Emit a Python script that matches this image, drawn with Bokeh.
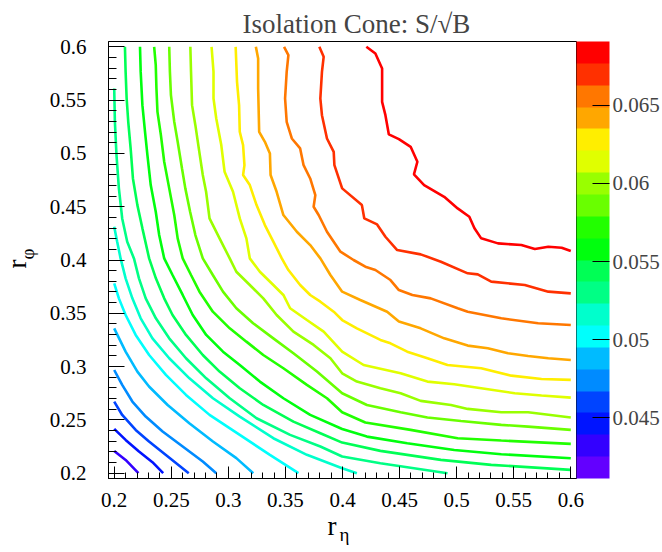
import colorsys
from bokeh.plotting import figure
from bokeh.models import (ColumnDataSource, LinearColorMapper, ColorBar, FixedTicker,
                          Range1d, CustomJSTickFormatter, Title)
from bokeh.embed import file_html
from bokeh.resources import INLINE

# ---------------- data ----------------
title_text = "Isolation Cone: S/\u221AB"
x_title_main, x_title_sub = "r", "\u03B7"
y_title_main, y_title_sub = "r", "\u03C6"

axis_lo, axis_hi = 0.195, 0.605
axis_ticks = [0.2, 0.25, 0.3, 0.35, 0.4, 0.45, 0.5, 0.55, 0.6]
z_min, z_max = 0.04113, 0.06907
n_bands = 20
cbar_ticks = [0.045, 0.05, 0.055, 0.06, 0.065]

contour_levels = [0.04252, 0.04392, 0.04532, 0.04672, 0.04811, 0.04951, 0.05091,
                  0.05230, 0.05370, 0.05510, 0.05650, 0.05790, 0.05929, 0.06069,
                  0.06209, 0.06348, 0.06488, 0.06628, 0.06768]

x_c01 = [0.2000, 0.2100, 0.2212]
y_c01 = [0.2209, 0.2124, 0.2000]
x_c02 = [0.2000, 0.2100, 0.2217, 0.2335, 0.2429]
y_c02 = [0.2415, 0.2312, 0.2203, 0.2103, 0.2000]
x_c03 = [0.2000, 0.2070, 0.2188, 0.2305, 0.2453, 0.2653]
y_c03 = [0.2672, 0.2546, 0.2406, 0.2297, 0.2171, 0.2000]
x_c04 = [0.2000, 0.2070, 0.2159, 0.2276, 0.2424, 0.2600, 0.2776, 0.2894]
y_c04 = [0.2968, 0.2828, 0.2672, 0.2531, 0.2391, 0.2250, 0.2109, 0.2000]
x_c05 = [0.2000, 0.2100, 0.2203, 0.2305, 0.2468, 0.2658, 0.2865, 0.3070, 0.3218]
y_c05 = [0.3359, 0.3141, 0.2953, 0.2813, 0.2640, 0.2468, 0.2297, 0.2141, 0.2000]
x_c06 = [0.2000, 0.2041, 0.2100, 0.2188, 0.2306, 0.2453, 0.2629, 0.2835, 0.3100, 0.3364, 0.3614]
y_c06 = [0.3781, 0.3640, 0.3484, 0.3297, 0.3109, 0.2922, 0.2734, 0.2547, 0.2359, 0.2172, 0.2000]
x_c07 = [0.2000, 0.2026, 0.2056, 0.2100, 0.2159, 0.2232, 0.2335, 0.2482, 0.2659, 0.2865,
         0.3100, 0.3394, 0.3688, 0.3997, 0.4126]
y_c07 = [0.4312, 0.4172, 0.4015, 0.3828, 0.3640, 0.3453, 0.3265, 0.3078, 0.2890, 0.2703,
         0.2531, 0.2328, 0.2172, 0.2047, 0.2000]
x_c08 = [0.2000, 0.2006, 0.2020, 0.2041, 0.2070, 0.2114, 0.2173, 0.2217, 0.2276, 0.2365,
         0.2482, 0.2629, 0.2806, 0.3012, 0.3247, 0.3541, 0.3806, 0.3997, 0.4332, 0.4920]
y_c08 = [0.5609, 0.5297, 0.4984, 0.4672, 0.4390, 0.4172, 0.4015, 0.3828, 0.3640, 0.3453,
         0.3265, 0.3078, 0.2890, 0.2703, 0.2515, 0.2359, 0.2250, 0.2156, 0.2093, 0.2000]
x_c09 = [0.2094, 0.2100, 0.2109, 0.2123, 0.2144, 0.2164, 0.2203, 0.2247, 0.2306, 0.2365,
         0.2438, 0.2511, 0.2629, 0.2776, 0.2923, 0.3100, 0.3306, 0.3570, 0.3806, 0.3997,
         0.4332, 0.4862, 0.5303, 0.6000]
y_c09 = [0.6000, 0.5765, 0.5515, 0.5297, 0.5047, 0.4765, 0.4515, 0.4297, 0.4015, 0.3828,
         0.3640, 0.3484, 0.3297, 0.3109, 0.2953, 0.2797, 0.2640, 0.2484, 0.2375, 0.2287,
         0.2209, 0.2125, 0.2078, 0.2031]
x_c10 = [0.2226, 0.2232, 0.2247, 0.2270, 0.2291, 0.2320, 0.2364, 0.2394, 0.2438, 0.2511,
         0.2600, 0.2688, 0.2806, 0.2953, 0.3100, 0.3276, 0.3482, 0.3717, 0.3997, 0.4214,
         0.4567, 0.4979, 0.5391, 0.6000]
y_c10 = [0.6000, 0.5765, 0.5453, 0.5203, 0.4984, 0.4703, 0.4453, 0.4234, 0.4015, 0.3859,
         0.3672, 0.3484, 0.3297, 0.3140, 0.3015, 0.2859, 0.2703, 0.2547, 0.2415, 0.2343,
         0.2281, 0.2218, 0.2178, 0.2140]
x_c11 = [0.2350, 0.2364, 0.2370, 0.2379, 0.2409, 0.2438, 0.2482, 0.2526, 0.2556, 0.2600,
         0.2673, 0.2747, 0.2864, 0.3012, 0.3158, 0.3306, 0.3482, 0.3688, 0.3864, 0.3997,
         0.4200, 0.4597, 0.5009, 0.5391, 0.6000]
y_c11 = [0.6000, 0.5828, 0.5609, 0.5390, 0.5172, 0.4922, 0.4672, 0.4422, 0.4203, 0.4015,
         0.3859, 0.3703, 0.3515, 0.3359, 0.3234, 0.3109, 0.2984, 0.2828, 0.2703, 0.2572,
         0.2475, 0.2406, 0.2328, 0.2306, 0.2275]
x_c12 = [0.2482, 0.2488, 0.2497, 0.2526, 0.2556, 0.2594, 0.2623, 0.2665, 0.2711, 0.2776,
         0.2864, 0.2953, 0.3070, 0.3217, 0.3394, 0.3570, 0.3776, 0.3997, 0.4214, 0.4509,
         0.4744, 0.5038, 0.5391, 0.5626, 0.6000]
y_c12 = [0.6000, 0.5765, 0.5547, 0.5297, 0.5109, 0.4859, 0.4672, 0.4453, 0.4234, 0.4015,
         0.3859, 0.3703, 0.3547, 0.3406, 0.3265, 0.3125, 0.2953, 0.2750, 0.2640, 0.2572,
         0.2522, 0.2490, 0.2453, 0.2437, 0.2406]
x_c13 = [0.2667, 0.2673, 0.2682, 0.2711, 0.2741, 0.2776, 0.2805, 0.2835, 0.2923, 0.3012,
         0.3070, 0.3188, 0.3306, 0.3423, 0.3570, 0.3747, 0.3894, 0.3997, 0.4126, 0.4332,
         0.4509, 0.4685, 0.4950, 0.5097, 0.5391, 0.5626, 0.6000]
y_c13 = [0.6000, 0.5765, 0.5453, 0.5265, 0.5047, 0.4797, 0.4640, 0.4390, 0.4203, 0.4015,
         0.3890, 0.3765, 0.3640, 0.3484, 0.3328, 0.3203, 0.3078, 0.2937, 0.2859, 0.2797,
         0.2750, 0.2678, 0.2640, 0.2603, 0.2572, 0.2572, 0.2522]
x_c14 = [0.2853, 0.2870, 0.2870, 0.2894, 0.2938, 0.2967, 0.3041, 0.3100, 0.3158, 0.3188,
         0.3276, 0.3394, 0.3482, 0.3541, 0.3688, 0.3835, 0.3997, 0.4185, 0.4509, 0.4744,
         0.4979, 0.5215, 0.5509, 0.5744, 0.6000]
y_c14 = [0.6000, 0.5765, 0.5515, 0.5328, 0.5078, 0.4828, 0.4640, 0.4390, 0.4203, 0.4015,
         0.3890, 0.3765, 0.3672, 0.3547, 0.3437, 0.3328, 0.3140, 0.3015, 0.2937, 0.2859,
         0.2834, 0.2797, 0.2750, 0.2728, 0.2709]
x_c15 = [0.3064, 0.3076, 0.3094, 0.3100, 0.3129, 0.3141, 0.3129, 0.3188, 0.3247, 0.3320,
         0.3394, 0.3468, 0.3526, 0.3629, 0.3717, 0.3806, 0.3923, 0.3997, 0.4126, 0.4332,
         0.4420, 0.4567, 0.4744, 0.4920, 0.5215, 0.5479, 0.5744, 0.6000]
y_c15 = [0.6000, 0.5672, 0.5453, 0.5203, 0.5078, 0.4890, 0.4797, 0.4703, 0.4515, 0.4328,
         0.4172, 0.4015, 0.3906, 0.3765, 0.3672, 0.3609, 0.3515, 0.3437, 0.3359, 0.3250,
         0.3218, 0.3140, 0.3078, 0.3015, 0.2984, 0.2915, 0.2884, 0.2875]
x_c16 = [0.3241, 0.3261, 0.3261, 0.3270, 0.3320, 0.3364, 0.3370, 0.3423, 0.3482, 0.3600,
         0.3717, 0.3806, 0.3894, 0.3997, 0.4156, 0.4391, 0.4494, 0.4685, 0.4891, 0.5097,
         0.5273, 0.5450, 0.5626, 0.5803, 0.6000]
y_c16 = [0.6000, 0.5890, 0.5609, 0.5203, 0.5109, 0.5000, 0.4797, 0.4640, 0.4422, 0.4265,
         0.4140, 0.4015, 0.3859, 0.3703, 0.3625, 0.3515, 0.3422, 0.3359, 0.3265, 0.3197,
         0.3172, 0.3125, 0.3100, 0.3078, 0.3062]
x_c17 = [0.3488, 0.3526, 0.3511, 0.3497, 0.3511, 0.3556, 0.3629, 0.3659, 0.3717, 0.3762,
         0.3747, 0.3791, 0.3864, 0.3982, 0.4097, 0.4200, 0.4288, 0.4420, 0.4494, 0.4612,
         0.4773, 0.5009, 0.5097, 0.5391, 0.5714, 0.6000]
y_c17 = [0.6000, 0.5922, 0.5765, 0.5515, 0.5297, 0.5140, 0.5047, 0.4890, 0.4765, 0.4609,
         0.4500, 0.4422, 0.4265, 0.4078, 0.4000, 0.3937, 0.3906, 0.3812, 0.3718, 0.3672,
         0.3640, 0.3547, 0.3515, 0.3453, 0.3406, 0.3390]
x_c18 = [0.3797, 0.3835, 0.3820, 0.3806, 0.3820, 0.3864, 0.3923, 0.3929, 0.3997, 0.4170,
         0.4191, 0.4303, 0.4376, 0.4479, 0.4685, 0.4862, 0.5097, 0.5185, 0.5303, 0.5597,
         0.5803, 0.6000]
y_c18 = [0.6000, 0.5906, 0.5765, 0.5515, 0.5359, 0.5140, 0.5015, 0.4890, 0.4672, 0.4515,
         0.4390, 0.4334, 0.4218, 0.4093, 0.4053, 0.3984, 0.3875, 0.3865, 0.3797, 0.3765,
         0.3703, 0.3687]
x_c19 = [0.4209, 0.4288, 0.4347, 0.4347, 0.4376, 0.4406, 0.4494, 0.4597, 0.4656, 0.4626,
         0.4715, 0.4891, 0.5009, 0.5111, 0.5156, 0.5215, 0.5362, 0.5567, 0.5685, 0.5803,
         0.5920, 0.6000]
y_c19 = [0.6000, 0.5937, 0.5797, 0.5484, 0.5359, 0.5178, 0.5134, 0.5062, 0.4922, 0.4803,
         0.4703, 0.4593, 0.4484, 0.4406, 0.4297, 0.4203, 0.4156, 0.4140, 0.4103, 0.4125,
         0.4115, 0.4084]

contour_xs = [x_c01, x_c02, x_c03, x_c04, x_c05, x_c06, x_c07, x_c08, x_c09, x_c10,
              x_c11, x_c12, x_c13, x_c14, x_c15, x_c16, x_c17, x_c18, x_c19]
contour_ys = [y_c01, y_c02, y_c03, y_c04, y_c05, y_c06, y_c07, y_c08, y_c09, y_c10,
              y_c11, y_c12, y_c13, y_c14, y_c15, y_c16, y_c17, y_c18, y_c19]

# ---------------- style ----------------
FONT = "Liberation Serif"


def root_pretty_palette(nb):
    # ROOT "pretty palette" (violet -> red), sampled as THistPainter does for nb contours
    cols = []
    for i in range(nb):
        idx = int((i + 0.99) * 50 / nb)
        hue = 280.0 - (idx + 1) * (280.0 / 50)
        r, g, b = colorsys.hls_to_rgb(hue / 360.0, 0.5, 1.0)
        cols.append("#%02x%02x%02x" % (round(r * 255), round(g * 255), round(b * 255)))
    return cols


palette = root_pretty_palette(n_bands)
band = (z_max - z_min) / n_bands
line_colors = [palette[min(n_bands - 1, int(round((lv - z_min) / band)))] for lv in contour_levels]

p = figure(width=662, height=552, x_range=Range1d(axis_lo, axis_hi),
           y_range=Range1d(axis_lo, axis_hi), output_backend="svg",
           toolbar_location=None, min_border_left=108, min_border_top=41,
           min_border_bottom=74, min_border_right=0)
p.background_fill_color = "white"
p.border_fill_color = "white"
p.outline_line_color = "black"
p.outline_line_width = 1
p.xgrid.visible = False
p.ygrid.visible = False

src = ColumnDataSource(dict(xs=contour_xs, ys=contour_ys, color=line_colors,
                            level=contour_levels))
p.multi_line(xs="xs", ys="ys", line_color="color", line_width=2.6, source=src)

fmt = CustomJSTickFormatter(code="return String(Math.round(tick*1000)/1000);")
minor = [round(0.19 + 0.01 * k, 3) for k in range(0, 43)]
for axes, tin, mtin in ((p.xaxis, 12, 6), (p.yaxis, 16, 8)):
    axes.ticker = FixedTicker(ticks=axis_ticks, minor_ticks=minor)
    axes.formatter = fmt
    axes.major_tick_in = tin
    axes.major_tick_out = 0
    axes.minor_tick_in = mtin
    axes.minor_tick_out = 0
    axes.major_tick_line_color = "black"
    axes.minor_tick_line_color = "black"
    axes.axis_line_color = "black"
    axes.major_label_text_font = FONT
    axes.major_label_text_font_size = "21px"
    axes.major_label_text_color = "black"
p.xaxis.major_label_standoff = 14
p.yaxis.major_label_standoff = 22

mapper = LinearColorMapper(palette=palette, low=z_min, high=z_max)
cbar = ColorBar(color_mapper=mapper, ticker=FixedTicker(ticks=cbar_ticks), formatter=fmt,
                width=33, margin=0, padding=0, major_tick_in=17, major_tick_out=0,
                major_tick_line_color="black", minor_tick_line_color=None,
                label_standoff=3, major_label_text_font=FONT,
                major_label_text_font_size="21px", background_fill_alpha=0,
                bar_line_color=None, border_line_color=None)
p.add_layout(cbar, "right")

p.title.text = title_text
p.title.text_font = FONT
p.title.text_font_size = "27px"
p.title.text_font_style = "normal"
p.title.align = "left"
p.title.offset = 134
p.title.standoff = 5

# axis titles (main letter + subscript) as side-panel titles
tstyle = dict(text_font=FONT, text_font_style="normal", text_color="black", align="left")
p.add_layout(Title(text=x_title_main, text_font_size="27px", offset=219, standoff=-2,
                   vertical_align="bottom", **tstyle), "below")
p.add_layout(Title(text=x_title_sub, text_font_size="19px", offset=231, standoff=-32,
                   vertical_align="top", **tstyle), "below")
p.add_layout(Title(text=y_title_sub, text_font_size="19px", offset=219, standoff=18,
                   vertical_align="bottom", **tstyle), "left")
p.add_layout(Title(text=y_title_main, text_font_size="27px", offset=210, standoff=-52,
                   vertical_align="bottom", **tstyle), "left")

open("out.html", "w").write(file_html(p, INLINE))
